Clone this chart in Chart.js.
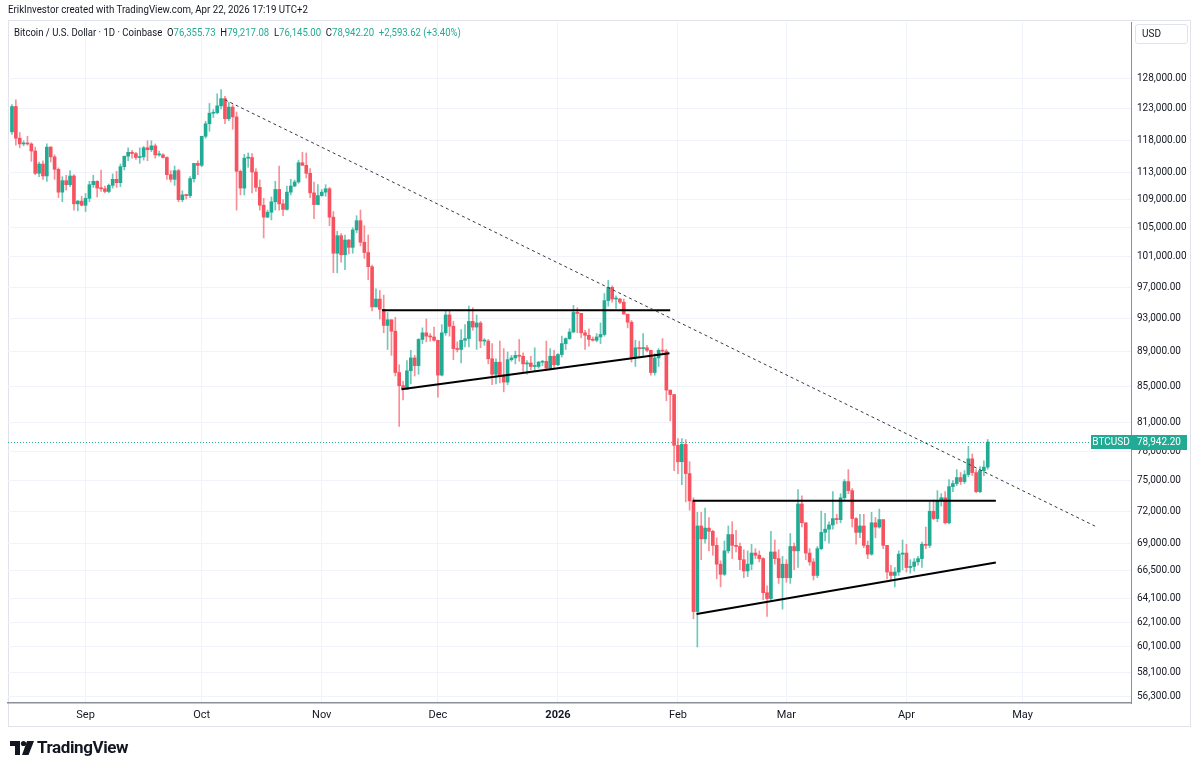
<!DOCTYPE html>
<html>
<head>
<meta charset="utf-8">
<script src="https://cdn.jsdelivr.net/npm/chart.js@4.4.1/dist/chart.umd.min.js"></script>
<style>
html,body{margin:0;padding:0;background:#fff;width:1200px;height:772px;overflow:hidden;font-family:Roboto,"Liberation Sans",sans-serif;}
#wrap{position:relative;width:1200px;height:772px;}
#c{position:absolute;left:0;top:0;}
.pane{position:absolute;left:8px;top:20px;width:1183px;height:707px;border:1px solid #e0e3eb;box-sizing:border-box;}
.fit{position:absolute;white-space:nowrap;transform-origin:0 50%;}
.title{left:8px;top:3px;font-size:11px;line-height:14px;color:#131722;}
.legend{left:14px;top:26px;font-size:11px;line-height:14px;color:#131722;}
.legend .v{color:#22ab94;}
.usd{position:absolute;left:1135px;top:24px;width:53px;height:20px;border:1px solid #e0e3eb;border-radius:3px;box-sizing:border-box;font-size:10px;line-height:18px;padding-left:6px;color:#131722;}
.logo{position:absolute;left:10px;top:739px;height:20px;}
.logotext{position:absolute;left:37px;top:737px;font-size:17px;font-weight:700;color:#131722;letter-spacing:-0.4px;}
</style>
</head>
<body>
<div id="wrap">
  <div class="pane"></div>
  <canvas id="c" width="1200" height="772"></canvas>
  <div class="fit title" data-w="300">ErikInvestor created with TradingView.com, Apr 22, 2026 17:19 UTC+2</div>
  <div class="fit legend" data-w="447">Bitcoin / U.S. Dollar · 1D · Coinbase&nbsp; <span>O</span><span class="v">76,355.73</span>&nbsp; <span>H</span><span class="v">79,217.08</span>&nbsp; <span>L</span><span class="v">76,145.00</span>&nbsp; <span>C</span><span class="v">78,942.20</span>&nbsp; <span class="v">+2,593.62 (+3.40%)</span></div>
  <div class="usd">USD</div>
  <svg class="logo" width="26" height="20" viewBox="0 0 26 20">
    <path d="M0 2 H10 V16 H5 V7 H0 Z" fill="#131722"/>
    <circle cx="13.5" cy="4.5" r="2.6" fill="#131722"/>
    <path d="M17 2 H24 L18.5 16 H12 Z" fill="#131722"/>
  </svg>
  <div class="logotext">TradingView</div>
</div>
<script>
// ---- data: daily candles from 2025-08-13 (index 0) to 2026-04-22 (index 252) ----
const startDate = '2025-08-13';
const opens = [119300,123400,118300,117400,117500,117400,116300,112900,114300,112500,116900,115400,113500,110100,111800,111200,112500,108400,108800,108200,109200,111200,111700,110700,110600,110200,111100,112000,111500,113900,115500,116100,115900,115300,115400,116800,116500,117100,115700,115700,115300,112700,112000,113300,109000,109700,109600,112100,114400,114100,118600,120600,122300,122400,123500,124700,121400,123300,121700,113200,110700,115200,115300,113100,110800,108200,106500,107200,108700,110500,108400,107600,110100,111000,111600,114500,114100,112900,110000,108300,109600,110100,110600,106500,101500,103900,101300,103300,102300,104700,106000,103000,101600,99700,94500,95500,94200,92200,92900,91500,86600,85100,84700,86800,88300,87400,90500,91300,90900,90800,90400,86300,91300,93500,92100,89400,89300,90400,90600,92700,92000,92500,90300,90300,88200,86400,87800,86200,85500,88100,88300,88600,88500,87600,87700,87300,87300,87800,87900,87100,88500,87500,88700,90000,90600,91400,93800,93700,91300,91000,90500,90400,90800,91100,95300,97000,95500,95500,95100,93600,92600,88300,89500,89400,89500,89200,86600,88300,89200,89100,84600,84100,78600,76900,78700,75700,73000,63000,70600,69400,70400,70100,68800,67100,66200,68300,69800,68800,68700,67500,66500,67100,68100,67900,67600,64600,64100,68200,67600,65900,67100,65900,68700,68300,72700,70900,68100,67300,66100,68500,70000,70300,70700,71300,71200,73300,74900,74000,71300,70000,70600,68800,68000,70900,70500,71200,68800,66400,66100,66400,68000,68100,66800,66900,67300,67600,68900,68800,72000,71300,73000,73300,70900,74400,74700,75300,74900,75600,77200,75800,73900,76000,76355.73];
const highs = [123700,124500,119200,117900,118600,117600,116900,114600,114800,117400,117000,115700,113700,112400,112600,113300,112700,108900,109500,109900,111700,112600,111800,113400,111000,111300,112800,113200,114300,115500,116800,116400,116100,116800,117000,117900,117900,117400,116300,115900,115400,113300,114000,113500,110300,109800,112400,114400,114800,118600,121000,123900,122900,125500,126200,125100,124100,123700,122500,113400,115800,116000,115900,113600,111900,109200,107500,109400,111700,114000,109000,111000,112000,111900,114900,116100,116000,113600,111600,111200,110500,111200,110800,107300,104500,104200,104000,103400,105000,106700,107500,105300,104000,99900,96800,96600,96000,93800,92900,93200,87500,85600,88000,89200,88600,90600,91900,93000,91200,92000,90400,92300,94100,94000,92700,90200,91700,92300,94600,94400,93500,92700,90600,90500,90000,88200,90300,89400,89000,88600,89100,90500,88900,88000,88500,89500,87900,88000,90300,89400,89200,88800,90900,90700,91800,94700,94400,93700,91600,91800,90800,91200,92500,96200,97900,97200,95900,95600,95500,93600,92800,90400,90300,91200,89800,89200,88800,89400,90600,89300,84600,84100,79300,79300,79200,76900,73300,71900,71900,72300,71400,70200,69500,67400,69200,70600,71000,70200,69000,68400,68300,68900,68500,68300,67700,65200,70100,69300,68400,67800,67500,69900,69000,74100,73500,70900,68500,67600,68700,72000,71800,71000,73900,71700,73700,75100,76100,74200,71400,71700,71700,69200,71900,71400,72200,71200,68800,67000,66800,68300,69300,68900,67500,67600,67800,69100,70500,72900,73100,74000,73700,73900,75100,75000,76100,75800,76000,78500,77700,76100,76400,77000,79217.08];
const lows = [118900,117200,116800,117100,117200,114700,112700,112400,112000,111700,114600,112000,109300,108700,110400,110900,107500,107400,108100,107300,108700,110800,109400,110200,110000,110000,110700,110800,110900,113400,114800,115200,115000,114400,114900,114800,116200,115200,115500,115200,112000,111600,111100,108700,108700,109100,109300,111600,112700,113900,118300,119400,121600,122200,123000,120600,121100,119700,107500,109700,109700,113800,110000,110200,107500,103600,106400,106100,107500,107500,106700,107500,109700,110900,111400,114100,112200,109300,106300,108300,109500,109500,105300,98900,98900,100300,99300,101400,101500,104300,102500,100800,98000,94000,94500,93000,91300,89300,88600,86200,80600,83500,84700,85300,86200,86400,90000,90200,90300,90300,83800,86200,91000,90900,88100,89000,87700,89600,89600,91600,89300,89500,89800,87600,85200,85300,85400,84400,85200,87900,87600,87900,86600,86400,86900,86700,87100,87400,86800,86900,87200,87400,88400,89300,90500,91300,91300,90700,89300,89700,90300,90200,90000,90900,94600,95100,94300,94900,93600,91900,87800,87300,88500,88600,89000,86300,86300,87300,88900,83400,81200,76000,75700,74600,72900,72100,62400,60100,67500,69000,68300,67900,65800,65100,66100,68100,67600,68200,66600,65900,66000,66600,67600,67300,64000,62600,63900,67100,65400,63200,65500,65400,66600,66800,70500,67500,67000,65700,65900,68400,69200,69000,70300,70800,70900,73000,73700,70500,68900,69500,68600,67600,67900,69500,70400,68500,65800,65700,65100,66100,66600,66400,66300,66500,67000,66800,68500,68600,71200,71000,72500,70800,70800,73900,74500,74600,74700,75400,75500,73800,73800,75500,76145];
const closes = [123400,118300,117400,117500,117400,116300,112900,114300,112500,116900,115400,113500,110100,111800,111200,112500,108400,108800,108200,109200,111200,111700,110700,110600,110200,111100,112000,111500,113900,115500,116100,115900,115300,115400,116800,116500,117100,115700,115700,115300,112700,112000,113300,109000,109700,109600,112100,114400,114100,118600,120600,122300,122400,123500,124700,121400,123300,121700,113200,110700,115200,115300,113100,110800,108200,106500,107200,108700,110500,108400,107600,110100,111000,111600,114500,114100,112900,110000,108300,109600,110100,110600,106500,101500,103900,101300,103300,102300,104700,106000,103000,101600,99700,94500,95500,94200,92200,92900,91500,86600,85100,84700,86800,88300,87400,90500,91300,90900,90800,90400,86300,91300,93500,92100,89400,89300,90400,90600,92700,92000,92500,90300,90300,88200,86400,87800,86200,85500,88100,88300,88600,88500,87600,87700,87300,87300,87800,87900,87100,88500,87500,88700,90000,90600,91400,93800,93700,91300,91000,90500,90400,90800,91100,95300,97000,95500,95500,95100,93600,92600,88300,89500,89400,89500,89200,86600,88300,89200,89100,84600,84100,78600,76900,78700,75700,73000,63000,70600,69400,70400,70100,68800,67100,66200,68300,69800,68800,68700,67500,66500,67100,68100,67900,67600,64600,64100,68200,67600,65900,67100,65900,68700,68300,72700,70900,68100,67300,66100,68500,70000,70300,70700,71300,71200,73300,74900,74000,71300,70000,70600,68800,68000,70900,70500,71200,68800,66400,66100,66400,68000,68100,66800,66900,67300,67600,68900,68800,72000,71300,73000,73300,70900,74400,74700,75300,74900,75600,77200,75800,73900,76000,76355.73,78942.20];

// x-axis month ticks (day index from startDate) and their labels
const monthTickIdx = [19,49,80,110,141,172,200,231,261];
const monthTickLabels = ['Sep','Oct','Nov','Dec','2026','Feb','Mar','Apr','May'];
// y-axis (log) tick values
const priceTicks = [128000,123000,118000,113000,109000,105000,101000,97000,93000,89000,85000,81000,78000,75000,72000,69000,66500,64100,62100,60100,58100,56300];
const lastPrice = 78942.20;
const symbol = 'BTCUSD';
// drawn lines: [dayIndex, price]
const dashedTrend = [[55.0,124500],[280.2,70500]];
const topLine1 = [[95.6,94100],[170.0,94100]];
const lowLine1  = [[100.6,84700],[169.8,88850]];
const topLine2 = [[175.8,73000],[254.1,73000]];
const lowLine2  = [[176.8,62800],[254.1,67250]];

// ---- chart ----
const UP = '#22ab94', DOWN = '#f7525f';
const UPW = 'rgba(34,171,148,0.65)', DOWNW = 'rgba(247,82,95,0.65)';
const isUp = opens.map((o,i)=>closes[i]>=o);
const fmt = v => v.toLocaleString('en-US',{minimumFractionDigits:2,maximumFractionDigits:2});
const toXY = arr => arr.map(p=>({x:p[0],y:p[1]}));

const lineDs = (pts, dash, w) => ({
  type:'line', data:toXY(pts), borderColor: dash ? '#3a3a3a' : '#000', borderWidth:w,
  borderDash: dash || [], pointRadius:0, fill:false, tension:0, order:0, clip:false
});

const priceLinePlugin = {
  id:'priceLine',
  beforeDatasetsDraw(chart){
    const {ctx, chartArea:a, scales:{y}} = chart;
    const py = Math.round(y.getPixelForValue(lastPrice))+0.5;
    ctx.save();
    ctx.strokeStyle = UP; ctx.lineWidth = 1; ctx.setLineDash([1,2]);
    ctx.beginPath(); ctx.moveTo(a.left,py); ctx.lineTo(a.right,py); ctx.stroke();
    ctx.restore();
  },
  afterDraw(chart){
    const {ctx, chartArea:a, scales:{y}} = chart;
    const py = Math.round(y.getPixelForValue(lastPrice));
    ctx.save();
    ctx.fillStyle = UP;
    ctx.fillRect(a.right-40, py-7, 40, 14);
    ctx.fillRect(a.right, py-7, 56, 15);
    ctx.fillStyle = '#fff';
    ctx.font = '10px Roboto';
    ctx.textBaseline = 'middle';
    ctx.textAlign = 'center';
    ctx.fillText(symbol, a.right-20, py+0.5);
    ctx.textAlign = 'left';
    ctx.fillText(fmt(lastPrice), a.right+6, py+0.5);
    ctx.restore();
  }
};

new Chart(document.getElementById('c'), {
  type:'bar',
  data:{
    datasets:[
      lineDs(dashedTrend,[3,3],1),
      lineDs(topLine1,null,2),
      lineDs(lowLine1,null,2),
      lineDs(topLine2,null,2),
      lineDs(lowLine2,null,2),
      { type:'bar', data: opens.map((o,i)=>({x:i,y:[o,closes[i]]})),
        backgroundColor: isUp.map(u=>u?UP:DOWN), barThickness:3, minBarLength:1, grouped:false, order:1 },
      { type:'bar', data: opens.map((o,i)=>({x:i,y:[lows[i],highs[i]]})),
        backgroundColor: isUp.map(u=>u?UPW:DOWNW), barThickness:1, grouped:false, order:2 }
    ]
  },
  options:{
    responsive:false, animation:false, devicePixelRatio:1,
    layout:{padding:{left:8,right:10,top:22,bottom:47}},
    plugins:{legend:{display:false}, tooltip:{enabled:false}},
    scales:{
      x:{
        type:'linear', min:-1.03, max:289.0, offset:false,
        afterBuildTicks: s => { s.ticks = monthTickIdx.map(v=>({value:v})); },
        afterFit: s => { s.height = 22; },
        grid:{color:'#f0f3fa', drawTicks:false, offset:false},
        border:{color:'#8c8f99', width:1.5},
        ticks:{
          autoSkip:false, maxRotation:0, padding:6, color:'#131722',
          callback: v => monthTickLabels[monthTickIdx.indexOf(v)] ?? '',
          font: c => ({family:'Roboto', size:11, weight: (c.tick && c.tick.label==='2026') ? 'bold' : 'normal'})
        }
      },
      y:{
        type:'logarithmic', position:'right', min:55778, max:138089,
        afterBuildTicks: s => { s.ticks = priceTicks.map(v=>({value:v})); },
        afterFit: s => { s.width = 59; },
        grid:{color:'#f0f3fa', drawTicks:false},
        border:{color:'#8c8f99', width:1},
        ticks:{padding:6, color:'#131722', font:{family:'Roboto', size:10}, callback: v => fmt(v)}
      }
    }
  },
  plugins:[priceLinePlugin]
});

// fit header texts to the reference widths
document.querySelectorAll('.fit').forEach(el=>{
  const w = el.getBoundingClientRect().width;
  const t = +el.dataset.w;
  el.style.transform = 'scaleX(' + (t/w).toFixed(3) + ')';
});
</script>
</body>
</html>
